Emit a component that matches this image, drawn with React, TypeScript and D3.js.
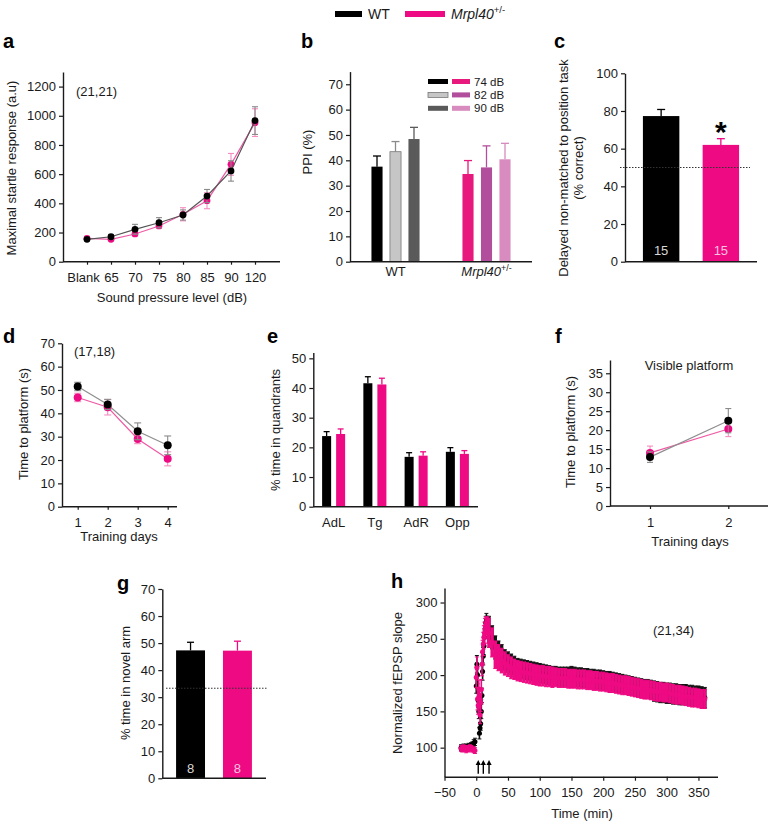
import React, { useEffect, useRef } from 'react';
import * as d3 from 'd3';

const FONT = '"Liberation Sans", Arial, Helvetica, sans-serif';
const INK = '#1a1a1a';
const PINK = '#ee0a83';
const PINK_LINE = '#ef5aa5';
const PINK_ERR = '#f58cc0';
const GREY_LINE = '#8f8f8f';
const GREY_ERR = '#8a8a8a';

// top legend
const genotypes = ['WT', 'Mrpl40'];

// a: startle response
const startleLevels = ['Blank', '65', '70', '75', '80', '85', '90', '120'];
const startleWT = [153, 171, 222, 267, 320, 450, 622, 967];
const startleWTErr = [12, 15, 34, 35, 35, 45, 70, 95];
const startleMut = [160, 153, 190, 245, 325, 418, 667, 953];
const startleMutErr = [10, 10, 15, 15, 45, 55, 75, 95];
const startleTicks = [0, 200, 400, 600, 800, 1000, 1200];

// b: prepulse inhibition
const ppiLevels = ['74 dB', '82 dB', '90 dB'];
const ppiWT = [37.5, 43.4, 48.4];
const ppiWTErr = [4.2, 4.0, 4.6];
const ppiMut = [34.6, 37.2, 40.4];
const ppiMutErr = [5.3, 8.5, 6.3];
const ppiTicks = [0, 10, 20, 30, 40, 50, 60, 70];
const ppiWTColors = ['#000000', '#c6c6c6', '#5a5a5a'];
const ppiMutColors = ['#e8197d', '#b24f9c', '#d78bbe'];

// c: delayed non-matched to position
const dnmpMean = [77.3, 62];
const dnmpErr = [3.5, 3.3];
const dnmpN = [15, 15];
const dnmpChance = 50;
const dnmpTicks = [0, 20, 40, 60, 80, 100];

// d: water maze, hidden platform
const mwzDays = [1, 2, 3, 4];
const mwzWT = [51.5, 43.8, 32.3, 26.3];
const mwzWTErr = [1.8, 2.2, 3.6, 4.0];
const mwzMut = [46.8, 42.6, 29.0, 20.5];
const mwzMutErr = [1.8, 3.3, 2.0, 3.0];
const mwzTicks = [0, 10, 20, 30, 40, 50, 60, 70];

// e: probe trial
const quadrants = ['AdL', 'Tg', 'AdR', 'Opp'];
const quadWT = [23.8, 41.6, 16.8, 18.5];
const quadWTErr = [1.5, 2.2, 1.4, 1.4];
const quadMut = [24.5, 41.2, 17.2, 17.8];
const quadMutErr = [1.7, 2.1, 1.3, 1.1];
const quadTicks = [0, 10, 20, 30, 40, 50];

// f: visible platform
const visDays = [1, 2];
const visWT = [12.9, 22.5];
const visWTErr = [1.4, 3.2];
const visMut = [14.0, 20.3];
const visMutErr = [1.8, 2.0];
const visTicks = [0, 5, 10, 15, 20, 25, 30, 35];

// g: Y maze
const ymazeMean = [47.3, 47.2];
const ymazeErr = [3.0, 3.5];
const ymazeN = [8, 8];
const ymazeChance = 33.3;
const ymazeTicks = [0, 10, 20, 30, 40, 50, 60, 70];

// h: LTP
const hTime = [
  -24, -22, -20, -18, -16, -14, -12, -10, -8, -6, -4, -2,
  0, 1, 2, 3, 4, 5, 6, 7, 8, 9, 10, 11, 12, 13, 14, 15, 16, 17, 18,
  20, 25, 30, 35, 40, 45, 50, 55, 60, 65, 70, 75, 80, 85, 90, 95, 100,
  105, 110, 115, 120, 125, 130, 135, 140, 145, 150, 155, 160, 165, 170, 175, 180,
  185, 190, 195, 200, 205, 210, 215, 220, 225, 230, 235, 240, 245, 250, 255, 260,
  265, 270, 275, 280, 285, 290, 295, 300, 305, 310, 315, 320, 325, 330, 335, 340,
  345, 350, 355, 360,
];
const hWT = [
  100, 99, 101, 100, 101, 99, 102, 101, 103, 104, 106, 108,
  185, 215, 200, 165, 150, 120, 127, 133, 150, 172, 205, 226, 240, 252, 262, 272, 276, 272, 268,
  265, 252, 238, 231, 226, 221, 218, 215, 212, 210, 209, 208, 207, 206, 205, 204, 203,
  202, 201, 200, 199, 199, 198, 198, 198, 198, 199, 198, 197, 197, 196, 196, 195,
  195, 194, 194, 193, 192, 192, 191, 190, 189, 188, 187, 186, 185, 184, 183, 182,
  181, 181, 180, 178, 177, 176, 176, 175, 175, 174, 174, 173, 173, 173, 172, 172,
  171, 171, 170, 169,
];
const hWTErr = [
  4, 4, 4, 4, 4, 4, 4, 4, 4, 4, 5, 5,
  10, 12, 12, 10, 10, 8, 8, 9, 10, 10, 12, 12, 12, 12, 10, 9, 9, 9, 12,
  16, 16, 16, 16, 16, 14, 14, 14, 14, 13, 13, 13, 13, 13, 13, 13, 13,
  13, 13, 13, 13, 13, 13, 13, 13, 13, 13, 13, 13, 13, 13, 13, 13,
  13, 13, 13, 13, 13, 13, 13, 13, 13, 13, 13, 13, 13, 13, 13, 13,
  13, 13, 13, 14, 14, 14, 14, 14, 14, 14, 14, 14, 14, 14, 14, 14,
  14, 14, 14, 14,
];
const hMut = [
  99, 98, 100, 99, 97, 99, 98, 100, 99, 98, 97, 96,
  197, 210, 167, 158, 181, 167, 145, 162, 180, 215, 232, 243, 252, 258, 264, 268, 268, 266, 262,
  258, 245, 228, 224, 220, 216, 213, 210, 208, 206, 205, 204, 203, 202, 201, 200, 199,
  199, 198, 198, 197, 197, 196, 196, 196, 195, 195, 195, 194, 194, 194, 193, 193,
  192, 192, 191, 191, 190, 189, 189, 188, 187, 186, 186, 185, 184, 183, 182, 181,
  180, 180, 179, 178, 177, 177, 176, 176, 175, 174, 173, 173, 172, 171, 170, 169,
  169, 168, 167, 167,
];
const hMutErr = [
  4, 4, 4, 4, 4, 4, 4, 4, 4, 4, 4, 4,
  14, 15, 15, 12, 12, 12, 12, 12, 14, 16, 16, 16, 16, 15, 14, 12, 12, 14, 18,
  20, 20, 19, 18, 17, 16, 15, 15, 14, 14, 14, 14, 14, 14, 14, 14, 14,
  14, 14, 14, 14, 13, 13, 13, 13, 13, 13, 13, 13, 13, 13, 13, 13,
  13, 13, 13, 13, 13, 13, 13, 13, 13, 13, 13, 13, 13, 13, 13, 13,
  13, 13, 13, 13, 13, 13, 13, 13, 13, 13, 13, 13, 13, 13, 13, 13,
  13, 13, 13, 13,
];
const hArrows = [0, 8, 17];
const hTicksX = [-50, 0, 50, 100, 150, 200, 250, 300, 350];
const hTicksY = [100, 150, 200, 250, 300];

const App = () => {
  const ref = useRef<SVGSVGElement | null>(null);

  useEffect(() => {
    const svg = d3.select(ref.current);
    svg.selectAll('*').remove();
    svg.append('rect').attr('width', 769).attr('height', 823).attr('fill', '#fff');

    const text = (g: any, x: number, y: number, s: string, size = 13, anchor = 'middle') =>
      g.append('text')
        .attr('x', x).attr('y', y)
        .attr('text-anchor', anchor)
        .attr('font-family', FONT)
        .attr('font-size', size)
        .attr('fill', INK)
        .text(s);

    const vtext = (g: any, x: number, y: number, s: string, size = 13) =>
      g.append('text')
        .attr('transform', `translate(${x},${y}) rotate(-90)`)
        .attr('text-anchor', 'middle')
        .attr('dominant-baseline', 'central')
        .attr('font-family', FONT)
        .attr('font-size', size)
        .attr('fill', INK)
        .text(s);

    const mutantLabel = (g: any, x: number, y: number, size: number, anchor = 'start') => {
      const t = g.append('text')
        .attr('x', x).attr('y', y)
        .attr('text-anchor', anchor)
        .attr('font-family', FONT)
        .attr('font-size', size)
        .attr('fill', INK);
      t.append('tspan').attr('font-style', 'italic').text(genotypes[1]);
      t.append('tspan').attr('font-size', size * 0.68).attr('dy', -size * 0.4).text('+/-');
      return t;
    };

    const letter = (x: number, y: number, s: string) =>
      text(svg, x, y, s, 20, 'start').attr('font-weight', 'bold').attr('fill', '#000');

    const styleAxis = (ax: any) => {
      ax.select('.domain').attr('stroke', INK).attr('stroke-width', 1.4);
      ax.selectAll('.tick line').attr('stroke', INK).attr('stroke-width', 1.2);
      ax.selectAll('.tick text').attr('font-family', FONT).attr('font-size', 13).attr('fill', INK);
    };

    const yAxis = (g: any, y: any, x: number, ticks: number[]) => {
      const ax = g.append('g')
        .attr('transform', `translate(${x},0)`)
        .call(d3.axisLeft(y).tickValues(ticks).tickSize(4).tickSizeOuter(0).tickPadding(3).tickFormat(d3.format('d')));
      styleAxis(ax);
    };

    const xAxis = (g: any, x: any, y: number, ticks: any[], tickSize: number, pad: number) => {
      const axis = d3.axisBottom(x).tickValues(ticks).tickSize(tickSize).tickSizeOuter(0).tickPadding(pad);
      const ax = g.append('g').attr('transform', `translate(0,${y})`).call(axis);
      ax.select('.domain').remove();
      styleAxis(ax);
      return ax;
    };

    const hline = (g: any, x0: number, x1: number, y: number) =>
      g.append('line').attr('x1', x0).attr('x2', x1).attr('y1', y).attr('y2', y)
        .attr('stroke', INK).attr('stroke-width', 1.4);

    const errBar = (g: any, x: number, y0: number, y1: number, color: string, cap: number, w = 1.1, both = false, y2 = 0, capW = w) => {
      g.append('line').attr('x1', x).attr('x2', x).attr('y1', y0).attr('y2', y1)
        .attr('stroke', color).attr('stroke-width', w);
      g.append('line').attr('x1', x - cap / 2).attr('x2', x + cap / 2).attr('y1', y1).attr('y2', y1)
        .attr('stroke', color).attr('stroke-width', capW);
      if (both) {
        g.append('line').attr('x1', x).attr('x2', x).attr('y1', y0).attr('y2', y2)
          .attr('stroke', color).attr('stroke-width', w);
        g.append('line').attr('x1', x - cap / 2).attr('x2', x + cap / 2).attr('y1', y2).attr('y2', y2)
          .attr('stroke', color).attr('stroke-width', capW);
      }
    };

    const dotSeries = (g: any, x: any, y: any, keys: any[], vals: number[], errs: number[],
      lineColor: string, errColor: string, dotColor: string, r: number, cap: number) => {
      const line = d3.line<number>().x((_, i) => x(keys[i])).y(d => y(d));
      g.append('path').attr('d', line(vals)).attr('fill', 'none').attr('stroke', lineColor).attr('stroke-width', 1.2);
      vals.forEach((v, i) => {
        errBar(g, x(keys[i]), y(v), y(v + errs[i]), errColor, cap, 1.1, true, y(v - errs[i]));
      });
      g.selectAll(null).data(vals).join('circle')
        .attr('cx', (_: any, i: number) => x(keys[i]))
        .attr('cy', (d: number) => y(d))
        .attr('r', r)
        .attr('fill', dotColor);
    };

    // ---------- top legend
    const lg = svg.append('g');
    lg.append('rect').attr('x', 335).attr('y', 11).attr('width', 27).attr('height', 6).attr('fill', '#000');
    text(lg, 368, 19, genotypes[0], 14, 'start');
    lg.append('rect').attr('x', 405).attr('y', 11).attr('width', 40).attr('height', 6).attr('fill', PINK);
    mutantLabel(lg, 451, 19, 14);

    // ---------- a
    const ga = svg.append('g');
    const xa = d3.scalePoint<string>().domain(startleLevels).range([87, 255]);
    const ya = d3.scaleLinear().domain([0, 1300]).range([261.7, 72]);
    yAxis(ga, ya, 63, startleTicks);
    hline(ga, 63, 280, 261.7);
    const axa = xAxis(ga, xa, 261.7, startleLevels, 3, 8);
    axa.selectAll('.tick text').filter((d: any) => d === startleLevels[0]).attr('dx', -4);
    dotSeries(ga, xa, ya, startleLevels, startleMut, startleMutErr, PINK_LINE, PINK_ERR, PINK, 3.4, 6);
    dotSeries(ga, xa, ya, startleLevels, startleWT, startleWTErr, '#555', GREY_ERR, '#000', 3.4, 6);
    text(ga, 76, 96, '(21,21)', 13, 'start');
    vtext(ga, 11, 168, 'Maximal startle response (a.u)');
    text(ga, 172, 302, 'Sound pressure level (dB)');
    letter(3, 48, 'a');

    // ---------- b
    const gb = svg.append('g');
    const yb = d3.scaleLinear().domain([0, 75]).range([261.7, 71.6]);
    const xb0 = d3.scaleBand<string>().domain(genotypes).range([350, 532]);
    const xb1 = d3.scaleBand<string>().domain(ppiLevels).range([0, xb0.bandwidth()]).paddingInner(0.4).paddingOuter(1.16);
    const ppiSets = [
      { g: genotypes[0], vals: ppiWT, errs: ppiWTErr, colors: ppiWTColors },
      { g: genotypes[1], vals: ppiMut, errs: ppiMutErr, colors: ppiMutColors },
    ];
    ppiSets.forEach(set => {
      set.vals.forEach((v, i) => {
        const x0 = (xb0(set.g) as number) + (xb1(ppiLevels[i]) as number);
        const w = xb1.bandwidth();
        const light = set.colors[i] === '#c6c6c6';
        errBar(gb, x0 + w / 2, yb(v), yb(v + set.errs[i]), light ? '#8a8a8a' : set.colors[i], 8, 1.3);
        gb.append('rect').attr('x', x0).attr('y', yb(v)).attr('width', w).attr('height', yb(0) - yb(v))
          .attr('fill', set.colors[i])
          .attr('stroke', light ? '#777' : 'none').attr('stroke-width', 0.8);
      });
    });
    yAxis(gb, yb, 350, ppiTicks);
    hline(gb, 350, 532, 261.7);
    text(gb, (xb0(genotypes[0]) as number) + xb0.bandwidth() / 2, 276, genotypes[0], 13);
    mutantLabel(gb, (xb0(genotypes[1]) as number) + xb0.bandwidth() / 2, 276, 13, 'middle');
    ppiLevels.forEach((lv, i) => {
      const yy = 81.5 + i * 13.4;
      gb.append('rect').attr('x', 428).attr('y', yy - 2.5).attr('width', 20).attr('height', 5)
        .attr('fill', ppiWTColors[i]).attr('stroke', i === 1 ? '#777' : 'none').attr('stroke-width', 0.8);
      gb.append('rect').attr('x', 452).attr('y', yy - 2.5).attr('width', 18).attr('height', 5).attr('fill', ppiMutColors[i]);
      text(gb, 474, yy + 4.1, lv, 11.5, 'start');
    });
    vtext(gb, 307, 152, 'PPI (%)');
    letter(301, 48, 'b');

    // ---------- c
    const gc = svg.append('g');
    const yc = d3.scaleLinear().domain([0, 100]).range([261.7, 73.3]);
    const xc = d3.scaleBand<string>().domain(genotypes).range([625, 757]).paddingInner(0.39).paddingOuter(0.3);
    const cColors = ['#000', PINK];
    const cNColors = ['#d8d8d8', '#ffc2e0'];
    dnmpMean.forEach((v, i) => {
      const x0 = xc(genotypes[i]) as number;
      const w = xc.bandwidth();
      errBar(gc, x0 + w / 2, yc(v), yc(v + dnmpErr[i]), cColors[i], 8, 1.3);
      gc.append('rect').attr('x', x0).attr('y', yc(v)).attr('width', w).attr('height', yc(0) - yc(v)).attr('fill', cColors[i]);
      text(gc, x0 + w / 2, 255, String(dnmpN[i]), 13).attr('fill', cNColors[i]);
    });
    gc.append('line').attr('x1', 620).attr('x2', 750).attr('y1', yc(dnmpChance)).attr('y2', yc(dnmpChance))
      .attr('stroke', '#333').attr('stroke-width', 1).attr('stroke-dasharray', '1.5,1.5');
    yAxis(gc, yc, 625, dnmpTicks);
    hline(gc, 625, 757, 261.7);
    text(gc, (xc(genotypes[1]) as number) + xc.bandwidth() / 2, 142, '*', 30).attr('font-weight', 'bold').attr('fill', '#000');
    vtext(gc, 563, 168, 'Delayed non-matched to position task');
    vtext(gc, 578, 168, '(% correct)');
    letter(554, 48, 'c');

    // ---------- d
    const gd = svg.append('g');
    const xd = d3.scalePoint<number>().domain(mwzDays).range([77.7, 167.7]);
    const yd = d3.scaleLinear().domain([0, 70]).range([506.7, 343.3]);
    yAxis(gd, yd, 62, mwzTicks);
    hline(gd, 62, 177, 506.7);
    xAxis(gd, xd, 506.7, mwzDays, 3, 8);
    dotSeries(gd, xd, yd, mwzDays, mwzMut, mwzMutErr, PINK_LINE, PINK_ERR, PINK, 4, 7);
    dotSeries(gd, xd, yd, mwzDays, mwzWT, mwzWTErr, GREY_LINE, GREY_ERR, '#000', 4, 7);
    text(gd, 74, 356, '(17,18)', 13, 'start');
    vtext(gd, 23, 424, 'Time to platform (s)');
    text(gd, 119, 541, 'Training days');
    letter(3, 343, 'd');

    // ---------- e
    const ge = svg.append('g');
    const ye = d3.scaleLinear().domain([0, 52]).range([506.7, 352.4]);
    const xe0 = d3.scaleBand<string>().domain(quadrants).range([313, 478]);
    const xe1 = d3.scaleBand<string>().domain(genotypes).range([0, xe0.bandwidth()]).paddingInner(0.357).paddingOuter(0.65);
    const quadSets = [
      { g: genotypes[0], vals: quadWT, errs: quadWTErr, color: '#000' },
      { g: genotypes[1], vals: quadMut, errs: quadMutErr, color: PINK },
    ];
    quadrants.forEach((q, qi) => {
      quadSets.forEach(set => {
        const x0 = (xe0(q) as number) + (xe1(set.g) as number);
        const w = xe1.bandwidth();
        const v = set.vals[qi];
        errBar(ge, x0 + w / 2, ye(v), ye(v + set.errs[qi]), set.color, 6, 1.3);
        ge.append('rect').attr('x', x0).attr('y', ye(v)).attr('width', w).attr('height', ye(0) - ye(v)).attr('fill', set.color);
      });
    });
    yAxis(ge, ye, 313.3, quadTicks);
    hline(ge, 313.3, 478, 506.7);
    xAxis(ge, xe0, 506.7, quadrants, 0, 11);
    vtext(ge, 275, 430, '% time in quandrants');
    letter(267, 343, 'e');

    // ---------- f
    const gf = svg.append('g');
    const xf = d3.scalePoint<number>().domain(visDays).range([650, 728.3]);
    const yf = d3.scaleLinear().domain([0, 38.5]).range([506, 360]);
    yAxis(gf, yf, 610, visTicks);
    hline(gf, 610, 768, 506);
    xAxis(gf, xf, 506, visDays, 3, 9);
    dotSeries(gf, xf, yf, visDays, visMut, visMutErr, PINK_LINE, PINK_ERR, PINK, 4, 6);
    dotSeries(gf, xf, yf, visDays, visWT, visWTErr, GREY_LINE, GREY_ERR, '#000', 4, 6);
    text(gf, 689, 370, 'Visible platform', 13);
    vtext(gf, 570, 432, 'Time to platform (s)');
    text(gf, 690, 546, 'Training days');
    letter(555, 343, 'f');

    // ---------- g
    const gg = svg.append('g');
    const yg = d3.scaleLinear().domain([0, 70]).range([778.3, 589]);
    const xg = d3.scaleBand<string>().domain(genotypes).range([162, 266]).paddingInner(0.383).paddingOuter(0.3);
    const gColors = ['#000', PINK];
    const gNColors = ['#d8d8d8', '#ffc2e0'];
    ymazeMean.forEach((v, i) => {
      const x0 = xg(genotypes[i]) as number;
      const w = xg.bandwidth();
      errBar(gg, x0 + w / 2, yg(v), yg(v + ymazeErr[i]), gColors[i], 7, 1.3);
      gg.append('rect').attr('x', x0).attr('y', yg(v)).attr('width', w).attr('height', yg(0) - yg(v)).attr('fill', gColors[i]);
      text(gg, x0 + w / 2, 773, String(ymazeN[i]), 13).attr('fill', gNColors[i]);
    });
    gg.append('line').attr('x1', 166).attr('x2', 268).attr('y1', yg(ymazeChance)).attr('y2', yg(ymazeChance))
      .attr('stroke', '#333').attr('stroke-width', 1).attr('stroke-dasharray', '1.5,1.5');
    yAxis(gg, yg, 162.3, ymazeTicks);
    hline(gg, 162.3, 266, 778.3);
    vtext(gg, 125, 683, '% time in novel arm');
    letter(117, 590, 'g');

    // ---------- h
    const gh = svg.append('g');
    const xh = d3.scaleLinear().domain([-50, 380]).range([444.5, 717.5]);
    const yh = d3.scaleLinear().domain([60, 320]).range([776.7, 588]);
    const hSets = [
      { vals: hWT, errs: hWTErr, color: '#000', err: '#141414' },
      { vals: hMut, errs: hMutErr, color: PINK, err: PINK },
    ];
    hSets.forEach(set => {
      set.vals.forEach((v, i) => {
        const dense = hTime[i] >= 20;
        errBar(gh, xh(hTime[i]), yh(v), yh(v + set.errs[i]), set.err, 4, dense ? 3.4 : 1.6, true, yh(v - set.errs[i]), 1);
      });
      gh.selectAll(null).data(set.vals).join('circle')
        .attr('cx', (_: any, i: number) => xh(hTime[i]))
        .attr('cy', (d: number) => yh(d))
        .attr('r', 2.5)
        .attr('fill', set.color);
    });
    yAxis(gh, yh, 444.5, hTicksY);
    const axh = gh.append('g').attr('transform', 'translate(0,776.7)')
      .call(d3.axisBottom(xh).tickValues(hTicksX).tickSize(4).tickSizeOuter(0).tickPadding(7));
    styleAxis(axh);
    hArrows.forEach(t => {
      const x = xh(t) + 2;
      gh.append('line').attr('x1', x).attr('x2', x).attr('y1', yh(64)).attr('y2', yh(80))
        .attr('stroke', '#000').attr('stroke-width', 1.4);
      gh.append('path').attr('d', `M${x - 2.6},${yh(76)} L${x},${yh(83)} L${x + 2.6},${yh(76)} Z`).attr('fill', '#000');
    });
    text(gh, 653, 635, '(21,34)', 13, 'start');
    vtext(gh, 397, 683, 'Normalized fEPSP slope');
    text(gh, 582, 818, 'Time (min)');
    letter(391, 588, 'h');
  }, []);

  return (
    <svg ref={ref} width={769} height={823} style={{ position: 'absolute', left: 0, top: 0, display: 'block' }} />
  );
};

export default App;
